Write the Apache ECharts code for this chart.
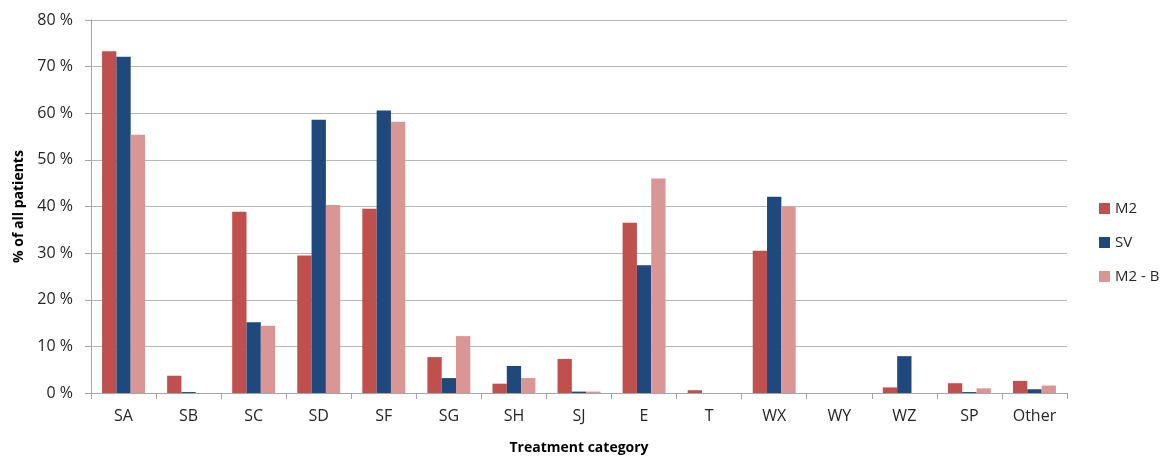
<!DOCTYPE html>
<html><head><meta charset="utf-8">
<script src="https://cdn.jsdelivr.net/npm/echarts@6/dist/echarts.min.js"></script>
<style>html,body{margin:0;padding:0;background:#fff}#c{width:1171px;height:460px}</style>
</head><body><div id="c"></div>
<script>
const categories = ['SA','SB','SC','SD','SF','SG','SH','SJ','E','T','WX','WY','WZ','SP','Other'];
const m2  = [73.3, 3.7, 38.9, 29.5, 39.5, 7.7, 2.0, 7.3, 36.5, 0.6, 30.5, 0, 1.2, 2.1, 2.6];
const sv  = [72.1, 0.2, 15.2, 58.6, 60.6, 3.2, 5.8, 0.3, 27.4, 0, 42.1, 0, 7.9, 0.2, 0.8];
const m2b = [55.4, 0, 14.4, 40.3, 58.2, 12.2, 3.2, 0.3, 46.0, 0, 40.0, 0, 0, 1.0, 1.6];
const seriesNames = ['M2','SV','M2 - B'];
const yTicks = [0,10,20,30,40,50,60,70,80];

const font = 'Open Sans, Liberation Sans, sans-serif';
const chart = echarts.init(document.getElementById('c'));
const colors = ['#C0504D','#1F497D','#D99694'];
chart.setOption({
  animation:false,
  color: colors,
  grid:{left:91,right:104,top:20,bottom:64,containLabel:false},
  legend:{
    orient:'vertical', left:1094, top:196, itemWidth:11, itemHeight:11, itemGap:19,
    icon:'rect', textStyle:{fontFamily:font,fontSize:15,color:'#262626'},
    data: seriesNames
  },
  xAxis:{
    type:'category', data:categories,
    name:'Treatment category', nameLocation:'middle', nameGap:48,
    nameTextStyle:{fontFamily:font,fontSize:14,fontWeight:'bold',color:'#000'},
    axisLine:{lineStyle:{color:'#A6A6A6'}},
    axisTick:{show:true,length:6,lineStyle:{color:'#A6A6A6'}},
    axisLabel:{fontFamily:font,fontSize:16,color:'#262626',margin:15}
  },
  yAxis:{
    type:'value', min:0, max:80, interval:10,
    name:'% of all patients', nameLocation:'middle', nameGap:65, nameRotate:90,
    nameTextStyle:{fontFamily:font,fontSize:14,fontWeight:'bold',color:'#000'},
    axisLine:{show:true,lineStyle:{color:'#A6A6A6'}},
    axisTick:{show:true,length:6,lineStyle:{color:'#A6A6A6'}},
    axisLabel:{fontFamily:font,fontSize:16,color:'#262626',margin:18,
      formatter:v=> yTicks.includes(v)? v+' %':''},
    splitLine:{lineStyle:{color:'#B8B8B8'}}
  },
  series: [m2,sv,m2b].map((d,i)=>({
    name:seriesNames[i], type:'bar', data:d, barGap:'0%', barCategoryGap:'34%',
    itemStyle:{color:colors[i]}
  }))
});
</script></body></html>
